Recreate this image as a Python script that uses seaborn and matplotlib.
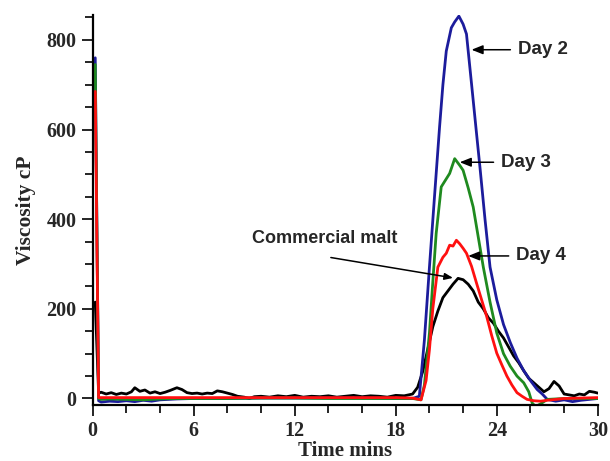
import matplotlib
matplotlib.use("Agg")
import matplotlib.pyplot as plt
from matplotlib.ticker import MultipleLocator
import seaborn as sns

# Day 2 (blue)
t_day2 = [0.15, 0.35, 0.5, 1, 1.5, 2, 2.5, 3, 3.5, 4, 5, 6, 8, 10, 12, 14, 16, 18, 19,
          19.4, 19.7, 20.0, 20.3, 20.6, 20.8, 21.0, 21.3, 21.5, 21.75, 22.0, 22.2, 22.5,
          22.8, 23.0, 23.3, 23.6, 24.0, 24.4, 24.8, 25.2, 25.6, 26.0, 26.4, 26.7, 27.0,
          27.5, 28.0, 28.5, 29.0, 29.5, 30]
v_day2 = [760, -5, -8, -6, -7, -5, -7, -4, -6, -3, -1, 0, 0, 1, 1, 1, 1, 0, 0,
          5, 130, 293, 450, 605, 700, 775, 827, 840, 853, 835, 813, 702,
          590, 516, 400, 293, 220, 165, 125, 90, 62, 40, 20, 10, -2,
          -6, -3, -7, -4, -2, 0]

# Day 3 (green)
t_day3 = [0.15, 0.35, 0.5, 1, 2, 3, 4, 5, 6, 8, 10, 12, 14, 16, 18, 19, 19.5, 19.7,
          20.0, 20.2, 20.4, 20.7, 21.0, 21.2, 21.5, 21.8, 22.0, 22.3, 22.6, 22.9, 23.2,
          23.6, 24.0, 24.4, 24.8, 25.2, 25.6, 25.9, 26.1, 26.3, 26.6, 27.0, 28, 29, 30]
v_day3 = [745, 0, -2, -1, -2, -3, -1, 0, 0, 0, 1, 1, 0, 0, 0, 0, -3, 30,
          146, 260, 368, 472, 490, 502, 535, 520, 509, 470, 427, 360, 293,
          215, 146, 100, 72, 50, 35, 15, -10, -18, -12, -2, 0, 0, 0]

# Day 4 (red)
t_day4 = [0.15, 0.35, 0.5, 2, 4, 6, 8, 10, 12, 14, 16, 18, 19, 19.5, 19.8, 20.0, 20.2,
          20.5, 20.8, 21.0, 21.2, 21.4, 21.6, 21.8, 22.0, 22.2, 22.5, 22.8, 23.1, 23.4,
          23.7, 24.0, 24.3, 24.6, 24.9, 25.2, 25.5, 25.8, 26.2, 26.6, 27.0, 27.5, 28,
          29, 30]
v_day4 = [685, 2, 2, 2, 2, 2, 2, 2, 2, 2, 2, 2, 1, -3, 40, 109, 200,
          293, 315, 324, 342, 340, 353, 345, 335, 324, 295, 257, 220, 183,
          140, 101, 75, 50, 30, 13, 5, -2, -5, -6, -4, -2, 0,
          1, 2]

# Commercial malt (black)
t_malt = [0.15, 0.35, 0.5, 0.8, 1.1, 1.4, 1.7, 2.0, 2.3, 2.5, 2.8, 3.1, 3.4, 3.7, 4.0,
          4.3, 4.6, 5.0, 5.3, 5.6, 5.9, 6.2, 6.5, 6.8, 7.1, 7.4, 7.7, 8.0, 8.3, 8.6,
          9.0, 9.3, 9.6, 10, 10.5, 11, 11.5, 12, 12.5, 13, 13.5, 14, 14.5, 15, 15.5,
          16, 16.5, 17, 17.5, 18, 18.5, 19.0, 19.3, 19.6, 19.9, 20.2, 20.5, 20.8,
          21.1, 21.4, 21.7, 22.0, 22.3, 22.6, 22.9, 23.2, 23.5, 23.8, 24.1, 24.4,
          24.7, 25.0, 25.3, 25.6, 25.9, 26.2, 26.5, 26.8, 27.1, 27.4, 27.7, 28.0,
          28.3, 28.6, 28.9, 29.2, 29.5, 29.8, 30]
v_malt = [215, 12, 14, 10, 13, 9, 12, 10, 15, 24, 16, 19, 12, 15, 11,
          14, 18, 24, 20, 13, 11, 12, 10, 12, 11, 17, 15, 12, 9, 5,
          3, 0, 4, 5, 3, 6, 4, 7, 3, 5, 4, 6, 3, 5, 7,
          4, 6, 5, 3, 7, 6, 10, 25, 60, 110, 160, 195, 225,
          240, 255, 268, 265, 255, 240, 215, 200, 180, 168, 150, 135,
          115, 95, 80, 62, 45, 35, 25, 15, 22, 38, 28, 10,
          8, 6, 10, 8, 16, 14, 12]

# annotation labels: (text, arrow head x, y, text x, y)
labels = [("Day 2", 22.5, 778, 25.25, 778),
          ("Day 3", 21.8, 527, 24.25, 527),
          ("Day 4", 22.3, 318, 25.15, 318)]
malt_label = ("Commercial malt", 21.4, 269, 13.8, 358, 13.9, 316)

sns.set_style("white")
fig, ax = plt.subplots(figsize=(6.10, 4.61), dpi=100)
fig.subplots_adjust(left=0.152, right=0.980, bottom=0.121, top=0.967)

lw = 2.0
sns.lineplot(x=t_malt, y=v_malt, color="black", lw=lw, estimator=None, sort=False, ax=ax)
sns.lineplot(x=t_day2, y=v_day2, color="#1c1c9c", lw=lw, estimator=None, sort=False, ax=ax)
sns.lineplot(x=t_day3, y=v_day3, color="#1f8a1f", lw=lw, estimator=None, sort=False, ax=ax)
sns.lineplot(x=t_day4, y=v_day4, color="#ff1010", lw=lw, estimator=None, sort=False, ax=ax)

ax.set_xlim(0, 30)
ax.set_ylim(-15, 855)
ax.xaxis.set_major_locator(MultipleLocator(6))
ax.xaxis.set_minor_locator(MultipleLocator(2))
ax.yaxis.set_major_locator(MultipleLocator(200))
ax.yaxis.set_minor_locator(MultipleLocator(50))

for s in ["top", "right"]:
    ax.spines[s].set_visible(False)
for s in ["left", "bottom"]:
    ax.spines[s].set_linewidth(1.6)
    ax.spines[s].set_color("black")

ax.tick_params(which="both", direction="out", color="black", width=1.2,
               left=True, bottom=True)
ax.tick_params(which="major", length=8)
ax.tick_params(which="minor", length=6)

serif = ["Liberation Serif", "DejaVu Serif"]
for lab in ax.get_xticklabels() + ax.get_yticklabels():
    lab.set_family(serif)
    lab.set_fontweight("bold")
    lab.set_fontsize(14.5)

ax.set_xlabel("Time mins", family=serif, fontweight="bold", fontsize=15, labelpad=0)
ax.set_ylabel("Viscosity cP", family=serif, fontweight="bold", fontsize=15.5, labelpad=8)

arrow = dict(arrowstyle="-|>,head_length=0.5,head_width=0.2", color="black", lw=1.1,
             shrinkA=3, shrinkB=0)
for text, hx, hy, tx, ty in labels:
    ax.annotate(text, xy=(hx, hy), xytext=(tx, ty), ha="left", va="center",
                family="Liberation Sans", fontweight="bold", fontsize=13.5,
                arrowprops=arrow)

name, hx, hy, tx, ty, ax0, ay0 = malt_label
ax.text(tx, ty, name, ha="center", va="center", family="Liberation Sans",
        fontweight="bold", fontsize=13)
ax.annotate("", xy=(hx, hy), xytext=(ax0, ay0), arrowprops=arrow)

fig.savefig("out.png", dpi=100)
